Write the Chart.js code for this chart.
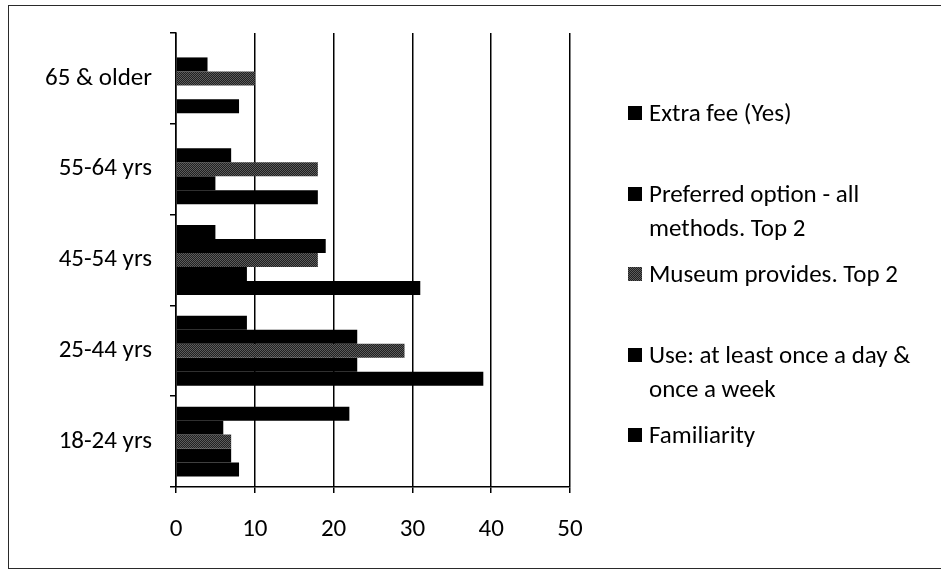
<!DOCTYPE html>
<html>
<head>
<meta charset="utf-8">
<script src="https://cdn.jsdelivr.net/npm/chart.js@4/dist/chart.umd.min.js"></script>
<style>
  html, body { margin: 0; padding: 0; background: #fff; }
  #wrap { position: relative; width: 941px; height: 572px; overflow: hidden; }
  #frame { position: absolute; left: 8px; top: 5px; width: 1000px; height: 564px;
           border: 1.5px solid #2a2a2a; box-sizing: border-box; }
  #chart { position: absolute; left: 0; top: 0; }
  #legend { position: absolute; left: 628px; top: 0; font-family: Carlito, Lato, sans-serif;
            font-size: 25px; color: #000; }
  .item { position: absolute; left: 0; white-space: nowrap; }
  .swatch { position: absolute; left: 0; width: 14px; height: 14px; }
  .text { position: absolute; left: 21px; line-height: 34px; }
</style>
</head>
<body>
<div id="wrap">
  <div id="frame"></div>
  <canvas id="chart" width="941" height="572"></canvas>
  <div id="legend"></div>
</div>
<script>
// Age groups, listed top to bottom
const categories = ['65 & older', '55-64 yrs', '45-54 yrs', '25-44 yrs', '18-24 yrs'];

// Series names (legend lines) and values (%)
const extraFeeName    = ['Extra fee (Yes)'];
const preferredName   = ['Preferred option - all', 'methods. Top 2'];
const museumName      = ['Museum provides. Top 2'];
const useName         = ['Use: at least once a day &', 'once a week'];
const familiarityName = ['Familiarity'];

const extraFee    = [0, 0, 5, 9, 22];
const preferred   = [4, 7, 19, 23, 6];
const museum      = [10, 18, 18, 29, 7];
const useWeekly   = [0, 5, 9, 23, 7];
const familiarity = [8, 18, 31, 39, 8];

// Value axis ticks
const xTicks = [0, 10, 20, 30, 40, 50];

const FONT = 'Carlito, Lato, sans-serif';
const FONT_SIZE = 25;

// Fine dithered grey used for the "Museum provides" bars
function ditherPattern() {
  const c = document.createElement('canvas');
  c.width = 2; c.height = 2;
  const g = c.getContext('2d');
  g.fillStyle = '#202020'; g.fillRect(0, 0, 2, 2);
  g.fillStyle = '#5c5c5c'; g.fillRect(0, 0, 1, 1); g.fillRect(1, 1, 1, 1);
  return g.createPattern(c, 'repeat');
}
const ctx = document.getElementById('chart').getContext('2d');
const grey = ditherPattern();

const series = [
  { name: extraFeeName,    data: extraFee,    fill: '#000', css: '#000' },
  { name: preferredName,   data: preferred,   fill: '#000', css: '#000' },
  { name: museumName,      data: museum,      fill: grey,
    css: 'repeating-conic-gradient(#5c5c5c 0 25%, #202020 0 50%) 0 0/2px 2px' },
  { name: useName,         data: useWeekly,   fill: '#000', css: '#000' },
  { name: familiarityName, data: familiarity, fill: '#000', css: '#000' }
];

new Chart(ctx, {
  type: 'bar',
  data: {
    labels: categories,
    datasets: series.map(s => ({
      label: s.name.join(' '),
      data: s.data,
      backgroundColor: s.fill,
      borderWidth: 0,
      categoryPercentage: 0.77,
      barPercentage: 1.0
    }))
  },
  options: {
    indexAxis: 'y',
    responsive: false,
    animation: false,
    layout: { padding: { top: 33, right: 371, left: 0, bottom: 0 } },
    plugins: { legend: { display: false }, tooltip: { enabled: false } },
    scales: {
      x: {
        min: 0, max: 50,
        afterBuildTicks: s => { s.ticks = xTicks.map(v => ({ value: v })); },
        ticks: { color: '#000', font: { family: FONT, size: FONT_SIZE }, padding: 22 },
        grid: { color: '#000', lineWidth: 1.5, tickLength: 6, drawOnChartArea: true },
        border: { color: '#000', width: 1.5 },
        afterFit: s => { s.height = 85; }
      },
      y: {
        ticks: { color: '#000', font: { family: FONT, size: FONT_SIZE }, padding: 18 },
        grid: { color: '#000', lineWidth: 1.5, tickLength: 6, drawOnChartArea: false, offset: true },
        border: { color: '#000', width: 1.5 },
        afterFit: s => { s.width = 176; }
      }
    }
  }
});

// Legend: one entry per series, evenly spaced down the right-hand side
const legend = document.getElementById('legend');
series.forEach((s, i) => {
  const firstLineCenter = 113 + i * 80.5;
  const item = document.createElement('div');
  item.className = 'item';
  item.style.top = (firstLineCenter - 17) + 'px';
  const sw = document.createElement('div');
  sw.className = 'swatch';
  sw.style.top = (17 - 7) + 'px';
  sw.style.background = s.css;
  const tx = document.createElement('div');
  tx.className = 'text';
  tx.innerHTML = s.name.map(l => l.replace(/&/g, '&amp;')).join('<br>');
  item.appendChild(sw);
  item.appendChild(tx);
  legend.appendChild(item);
});
</script>
</body>
</html>
